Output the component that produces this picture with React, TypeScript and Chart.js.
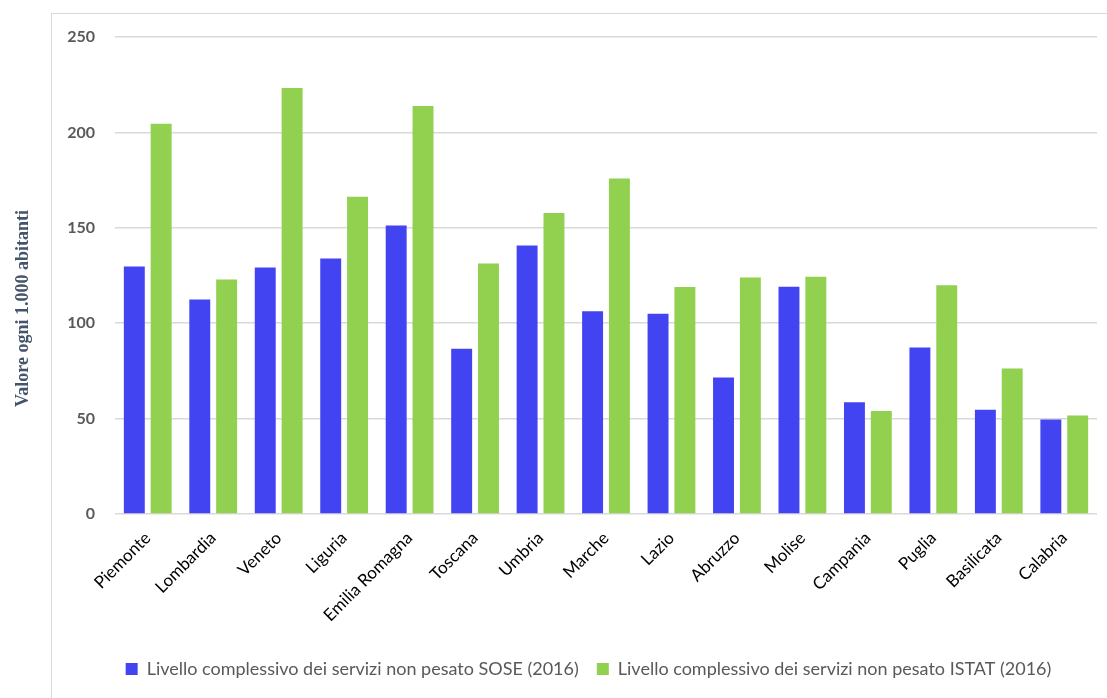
import React, { useEffect, useRef } from "react";
import { Chart, registerables } from "chart.js";

Chart.register(...registerables);

const categories = [
  "Piemonte", "Lombardia", "Veneto", "Liguria", "Emilia Romagna", "Toscana", "Umbria",
  "Marche", "Lazio", "Abruzzo", "Molise", "Campania", "Puglia", "Basilicata", "Calabria",
];
const soseValues = [129.7, 112.4, 129.2, 133.9, 151.2, 86.6, 140.7, 106.3, 105.0, 71.5, 119.1, 58.6, 87.2, 54.7, 49.5];
const istatValues = [204.5, 122.9, 223.3, 166.3, 213.9, 131.3, 157.8, 175.9, 119.0, 124.0, 124.3, 54.0, 119.9, 76.2, 51.6];
const seriesLabels = [
  "Livello complessivo dei servizi non pesato SOSE (2016)",
  "Livello complessivo dei servizi non pesato ISTAT (2016)",
];
const yTitle = "Valore ogni 1.000 abitanti";
const yMin = 0;
const yMax = 250;
const yStep = 50;

const W = 1107;
const H = 698;

const yTitlePlugin = {
  id: "yTitlePlugin",
  afterLayout(chart: any) {
    // the legend in the reference is centred on the framed box, not the full canvas
    if (chart.legend) {
      chart.legend.left = 80;
    }
  },
  afterDraw(chart: any) {
    const ctx = chart.ctx;
    const area = chart.chartArea;
    ctx.save();
    ctx.translate(23, (area.top + area.bottom) / 2 + 33);
    ctx.rotate(-Math.PI / 2);
    ctx.font = 'bold 18px "Liberation Serif"';
    ctx.fillStyle = "#44546A";
    ctx.textAlign = "center";
    ctx.textBaseline = "middle";
    ctx.fillText(yTitle, 0, 0);
    ctx.restore();
  },
};

export default function App() {
  const ref = useRef<HTMLCanvasElement | null>(null);

  useEffect(() => {
    if (!ref.current) return;
    const chart = new Chart(ref.current, {
      type: "bar",
      data: {
        labels: categories,
        datasets: [
          {
            label: seriesLabels[0],
            data: soseValues,
            backgroundColor: "#4244F2",
            borderWidth: 0,
            categoryPercentage: 0.82,
            barPercentage: 0.78,
          },
          {
            label: seriesLabels[1],
            data: istatValues,
            backgroundColor: "#92D050",
            borderWidth: 0,
            categoryPercentage: 0.82,
            barPercentage: 0.78,
          },
        ],
      },
      options: {
        responsive: false,
        animation: false,
        devicePixelRatio: 1,
        layout: { padding: { left: 0, right: 10, top: 37, bottom: 10 } },
        plugins: {
          legend: {
            position: "bottom",
            labels: {
              boxWidth: 12,
              boxHeight: 12,
              padding: 18,
              color: "#595959",
              font: { family: "Lato", size: 18 },
            },
          },
          tooltip: { enabled: false },
          title: { display: false },
        },
        scales: {
          x: {
            grid: { display: false },
            border: { display: false },
            ticks: {
              color: "#000000",
              font: { family: "Lato", size: 17 },
              minRotation: 45,
              maxRotation: 45,
              autoSkip: false,
              padding: 6,
            },
            afterFit(scale: any) {
              scale.height = 128;
            },
          },
          y: {
            min: yMin,
            max: yMax,
            ticks: {
              stepSize: yStep,
              color: "#595959",
              font: { family: "Lato", size: 16, weight: "bold" },
              padding: 20,
            },
            grid: { color: "#D9D9D9", lineWidth: 1.5, drawTicks: false },
            border: { display: false },
            afterFit(scale: any) {
              scale.width = 115;
            },
          },
        },
      },
      plugins: [yTitlePlugin],
    });
    return () => chart.destroy();
  }, []);

  return (
    <div>
      <canvas
        ref={ref}
        width={W}
        height={H}
        style={{ position: "fixed", left: 0, top: 0, width: W, height: H }}
      />
      <div
        style={{
          position: "fixed",
          left: 51,
          top: 13,
          width: W,
          height: H,
          borderLeft: "1.5px solid #D9D9D9",
          borderTop: "1.5px solid #D9D9D9",
          pointerEvents: "none",
        }}
      />
    </div>
  );
}
